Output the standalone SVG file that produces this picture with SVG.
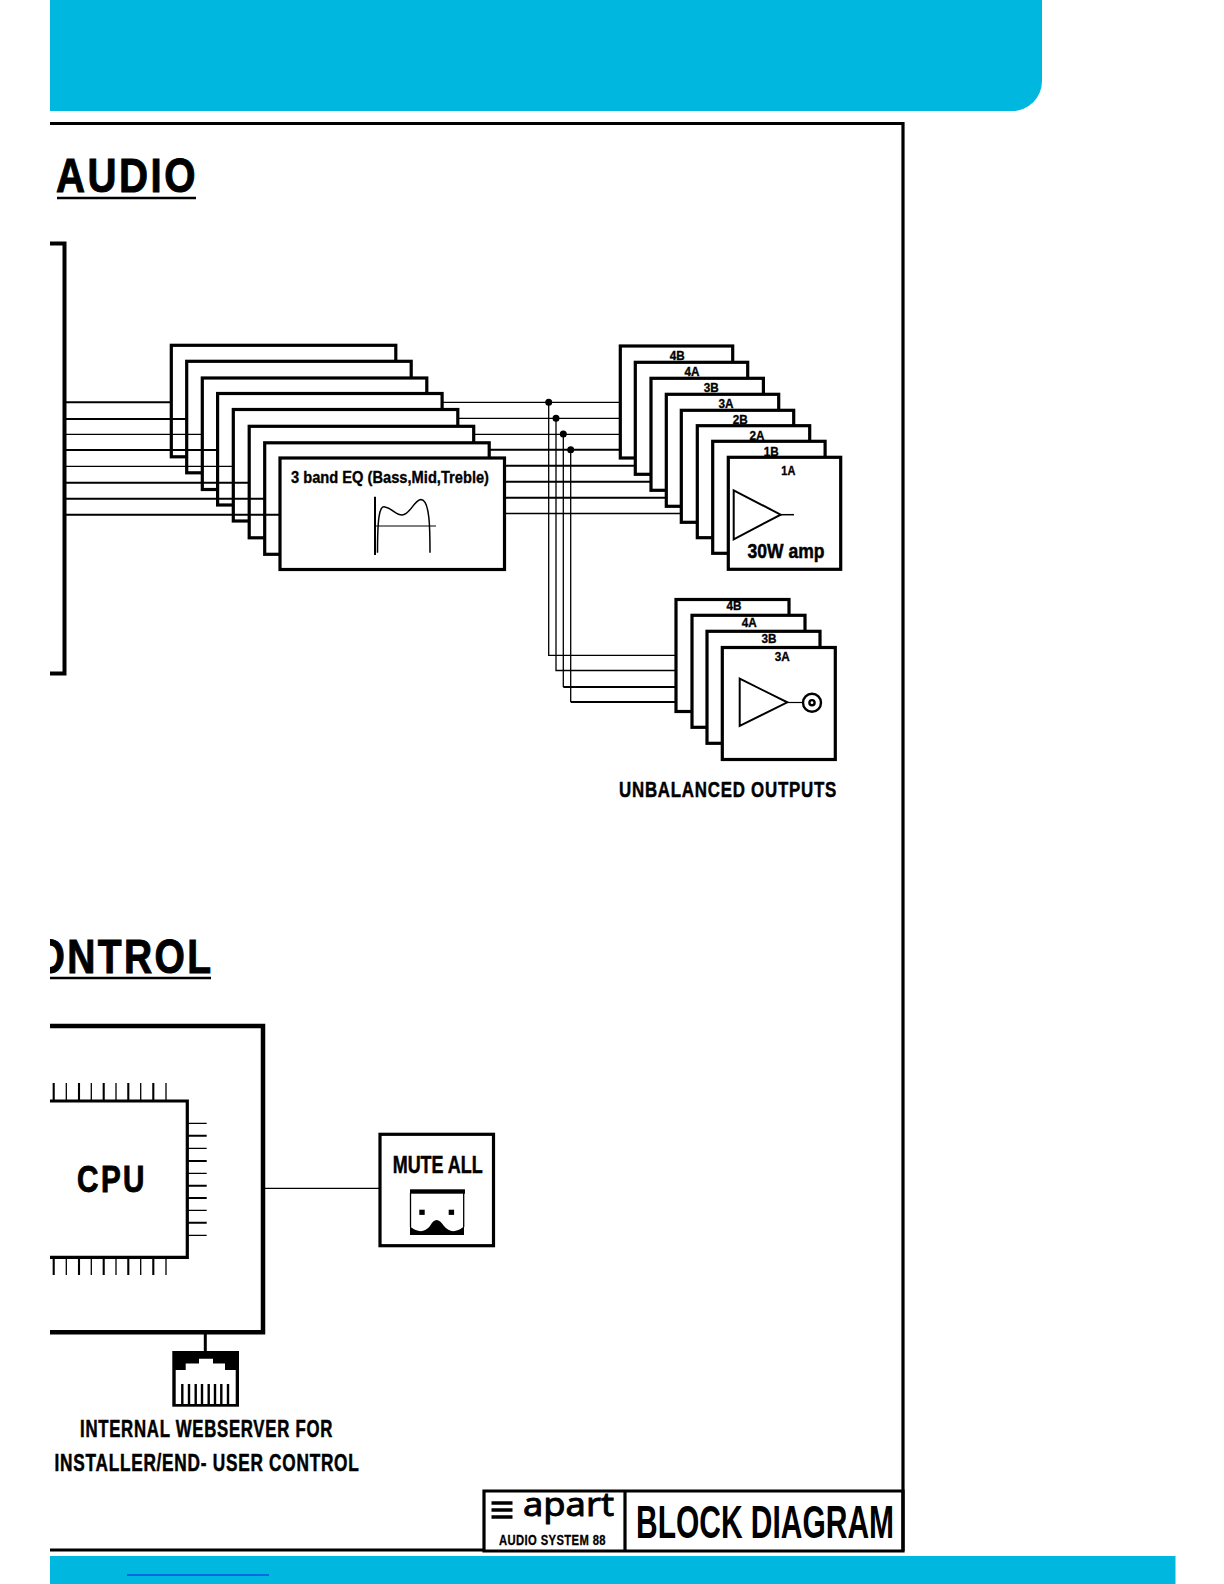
<svg xmlns="http://www.w3.org/2000/svg" width="1224" height="1584" viewBox="0 0 1224 1584">
<style>
text{font-family:"Liberation Sans",Arial,sans-serif;font-weight:700;fill:#000;stroke:#000;stroke-width:.35;text-anchor:middle}
.s{text-anchor:start}
.box{fill:#fff;stroke:#000;stroke-width:3.2}
.n{fill:none;stroke:#000}
.l1{fill:none;stroke:#000;stroke-width:1.3}
.l2{fill:none;stroke:#000;stroke-width:2.1}
.tag{font-size:13px}
.tri{fill:#fff;stroke:#000;stroke-width:2}
.big{font-size:48px;stroke-width:1;letter-spacing:3px}
.mid{font-size:23px;stroke-width:.5;letter-spacing:1px}
</style>
<rect width="1224" height="1584" fill="#fff"/>
<g id="bands">
<path d="M50,0H1042V81A30,30 0 0 1 1012,111H50Z" fill="#00b7e0"/>
<rect x="50" y="1556" width="1125.5" height="28" fill="#00b7e0"/>
<line x1="127" y1="1575" x2="269" y2="1575" stroke="#0a1de8" stroke-width="1"/>
</g>
<path id="frame" class="n" stroke-width="3.2" d="M50,123.5H903V1551M50,1550H484"/>
<g id="audio-title">
<text class="big s" x="56" y="191.5" textLength="142" lengthAdjust="spacingAndGlyphs">AUDIO</text>
<line x1="57" y1="198" x2="196" y2="198" stroke="#000" stroke-width="2.6"/>
</g>
<path id="input-bracket" class="n" stroke-width="4" d="M50,243.5H64.5V673.5H50"/>
<g id="eq-stack">
<rect class="box" x="171.3" y="345.3" width="224.5" height="111.5"/>
<rect class="box" x="186.7" y="361.3" width="224.5" height="111.5"/>
<rect class="box" x="202.3" y="378" width="224.5" height="111.5"/>
<rect class="box" x="217.6" y="393.5" width="224.5" height="111.5"/>
<rect class="box" x="233.3" y="409.5" width="224.5" height="111.5"/>
<rect class="box" x="249.2" y="426.3" width="224.5" height="111.5"/>
<rect class="box" x="264.7" y="442.8" width="224.5" height="111.5"/>
<rect class="box" x="280" y="458" width="224.5" height="111.5"/>
<text x="390" y="483" style="font-size:17px" textLength="198" lengthAdjust="spacingAndGlyphs">3 band EQ (Bass,Mid,Treble)</text>
<line x1="375" y1="496.7" x2="375" y2="555" stroke="#000" stroke-width="2"/>
<line x1="375" y1="526" x2="436" y2="526" stroke="#000" stroke-width="1"/>
<path class="n" stroke-width="1.5" d="M377.5,552.7C377.5,520 379,505 385,507C393,509 396,515 402,515C410,515 414,500 421,499.5C430,500 430,530 430,552.7"/>
</g>
<g id="amp-stack">
<rect class="box" x="620.3" y="346" width="112.4" height="112"/>
<rect class="box" x="635.3" y="362.3" width="112.4" height="112"/>
<rect class="box" x="651" y="378.3" width="112.4" height="112"/>
<rect class="box" x="666.3" y="394.3" width="112.4" height="112"/>
<rect class="box" x="681.3" y="410.3" width="112.4" height="112"/>
<rect class="box" x="697.3" y="425.7" width="112.4" height="112"/>
<rect class="box" x="712.7" y="441.3" width="112.4" height="112"/>
<text class="tag" x="677.3" y="360" textLength="15" lengthAdjust="spacingAndGlyphs">4B</text>
<text class="tag" x="692" y="376" textLength="15" lengthAdjust="spacingAndGlyphs">4A</text>
<text class="tag" x="711.3" y="391.5" textLength="15" lengthAdjust="spacingAndGlyphs">3B</text>
<text class="tag" x="726" y="407.5" textLength="15" lengthAdjust="spacingAndGlyphs">3A</text>
<text class="tag" x="740.3" y="423.5" textLength="15" lengthAdjust="spacingAndGlyphs">2B</text>
<text class="tag" x="757" y="440" textLength="15" lengthAdjust="spacingAndGlyphs">2A</text>
<text class="tag" x="771.3" y="456" textLength="15" lengthAdjust="spacingAndGlyphs">1B</text>
<rect class="box" x="728.3" y="457.3" width="112.4" height="112"/>
<text class="tag" x="788.3" y="475" textLength="14" lengthAdjust="spacingAndGlyphs">1A</text>
<path class="tri" d="M733.7,490.3V539.3L780.7,514.7Z"/>
<line x1="780" y1="514.7" x2="794" y2="514.7" stroke="#000" stroke-width="1.5"/>
<text x="786" y="558" style="font-size:21px;stroke-width:.5" textLength="77" lengthAdjust="spacingAndGlyphs">30W amp</text>
</g>
<g id="unbalanced-stack">
<rect class="box" x="676" y="599.5" width="113" height="112"/>
<rect class="box" x="692" y="615.3" width="113" height="112"/>
<rect class="box" x="707" y="631.3" width="113" height="112"/>
<text class="tag" x="734" y="610" textLength="15" lengthAdjust="spacingAndGlyphs">4B</text>
<text class="tag" x="749.3" y="627" textLength="15" lengthAdjust="spacingAndGlyphs">4A</text>
<text class="tag" x="769" y="642.5" textLength="15" lengthAdjust="spacingAndGlyphs">3B</text>
<rect class="box" x="722.3" y="647.5" width="113" height="112"/>
<text class="tag" x="782.3" y="661" textLength="15" lengthAdjust="spacingAndGlyphs">3A</text>
<path class="tri" d="M739.7,678.7V726L787.3,702.3Z"/>
<line x1="787" y1="702.5" x2="803" y2="702.5" stroke="#000" stroke-width="1.2"/>
<circle cx="812" cy="702.7" r="9" fill="#fff" stroke="#000" stroke-width="2.4"/>
<circle cx="812" cy="702.7" r="2.6" fill="#fff" stroke="#000" stroke-width="2.4"/>
<text class="mid s" x="619" y="796.7" style="font-size:22px" textLength="218" lengthAdjust="spacingAndGlyphs">UNBALANCED OUTPUTS</text>
</g>
<g id="connectors">
<path class="l2" d="M64,402.3H171.3M64,419H186.7M64,450H217.6M64,482.7H249.2M64,498.8H264.7M64,514.7H280"/>
<path class="l1" d="M64,434.3H202.3M64,466.3H233.3"/>
<path class="l1" d="M442,402.3H620.3M457.8,418.3H620.3M473.7,434.3H620.3M504.5,513.5H681.3"/>
<path class="l2" d="M489.2,449.8H620.3M504.5,465.8H635.3M504.5,481.8H651M504.5,497.8H666.3"/>
<path class="l1" d="M548.7,402.3V655.3H676M556,418.3V670.5H676M563.3,434V687M570.7,450V702"/>
<path class="l2" d="M563.3,687H676M570.7,702H676"/>
<circle cx="548.7" cy="402.3" r="3.5"/><circle cx="556" cy="418.3" r="3.5"/><circle cx="563.3" cy="434" r="3.5"/><circle cx="570.7" cy="449.8" r="3.5"/>
<line x1="264" y1="1188.4" x2="380" y2="1188.4" stroke="#000" stroke-width="1.3"/>
<line x1="205.3" y1="1333" x2="205.3" y2="1351" stroke="#000" stroke-width="3"/>
</g>
<g id="control-title">
<text class="big s" x="34.5" y="972.7" textLength="179" lengthAdjust="spacingAndGlyphs">ONTROL</text>
</g>
<g id="cpu-board">
<path class="n" stroke-width="4.5" d="M50,1026H263V1332.3H50"/>
<path class="n" stroke-width="3.2" d="M50,1101H187.3V1257.3H50"/>
<path class="l2" d="M53.7,1083V1101M79,1083V1101M103.7,1083V1101M128.3,1083V1101M153.3,1083V1101M53.7,1257V1275M79,1257V1275M103.7,1257V1275M128.3,1257V1275M153.3,1257V1275M187,1135.7H206.7M187,1161H206.7M187,1185.7H206.7M187,1198H206.7M187,1222.7H206.7"/>
<path class="l1" d="M66.3,1083V1101M91.3,1083V1101M116,1083V1101M140.7,1083V1101M166,1083V1101M66.3,1257V1275M91.3,1257V1275M116,1257V1275M140.7,1257V1275M166,1257V1275M187,1123.3H206.7M187,1148.3H206.7M187,1173.3H206.7M187,1210.3H206.7M187,1235.3H206.7"/>
<text class="s" x="77" y="1192" style="font-size:36px;stroke-width:.9;letter-spacing:3px" textLength="70" lengthAdjust="spacingAndGlyphs">CPU</text>
</g>
<g id="mute-all">
<rect class="box" x="380" y="1134.3" width="113.5" height="111.4"/>
<text x="437.7" y="1172.7" style="font-size:24px;stroke-width:.5" textLength="90" lengthAdjust="spacingAndGlyphs">MUTE ALL</text>
<rect x="410" y="1189.3" width="55" height="4.4"/>
<path d="M410,1226.5Q422,1236 430,1226Q433,1220 436.7,1220Q440,1220 444,1226Q452,1236 464,1226.5V1235H410Z"/>
<path class="l1" d="M410.5,1193V1227M463.7,1193V1227"/>
<rect x="419.3" y="1209.7" width="5.4" height="5.2"/><rect x="448.7" y="1209.7" width="5.4" height="5.2"/>
</g>
<g id="rj45">
<rect x="172.3" y="1351" width="66.7" height="55.7"/>
<path fill="#fff" d="M175.7,1370H185.7V1363.4H199V1358.7H213V1363.4H225V1370H235.7V1404H175.7Z"/>
<path class="n" stroke-width="2.4" d="M182.3,1384V1404M189,1384V1404M195.7,1384V1404M202,1384V1404M208.7,1384V1404M215,1384V1404M221.3,1384V1404M228,1384V1404"/>
<text class="mid s" x="80" y="1436.7" textLength="253" lengthAdjust="spacingAndGlyphs">INTERNAL WEBSERVER FOR</text>
<text class="mid s" x="54.5" y="1470.7" textLength="305" lengthAdjust="spacingAndGlyphs">INSTALLER/END- USER CONTROL</text>
</g>
<g id="title-block">
<path class="n" stroke-width="3.2" d="M484,1491H903V1551H484ZM625,1491V1551"/>
<path class="n" stroke-width="3.4" d="M491.5,1503H512.5M491.5,1510H512.5M491.5,1517H512.5"/>
<text x="568.5" y="1516" style="font-family:'Noto Sans','Liberation Sans',sans-serif;font-weight:400;font-size:33px;stroke-width:.9" textLength="91" lengthAdjust="spacingAndGlyphs">apart</text>
<text class="s" x="499" y="1545" style="font-size:14px;stroke-width:.3;letter-spacing:.5px" textLength="107" lengthAdjust="spacingAndGlyphs">AUDIO SYSTEM 88</text>
<text x="765" y="1538.3" style="font-size:46px;stroke-width:0" textLength="258" lengthAdjust="spacingAndGlyphs">BLOCK DIAGRAM</text>
</g>
<rect id="page-margin" width="50" height="1584" fill="#fff"/>
<line id="control-underline" x1="50" y1="978" x2="211" y2="978" stroke="#000" stroke-width="2.6"/>
</svg>
